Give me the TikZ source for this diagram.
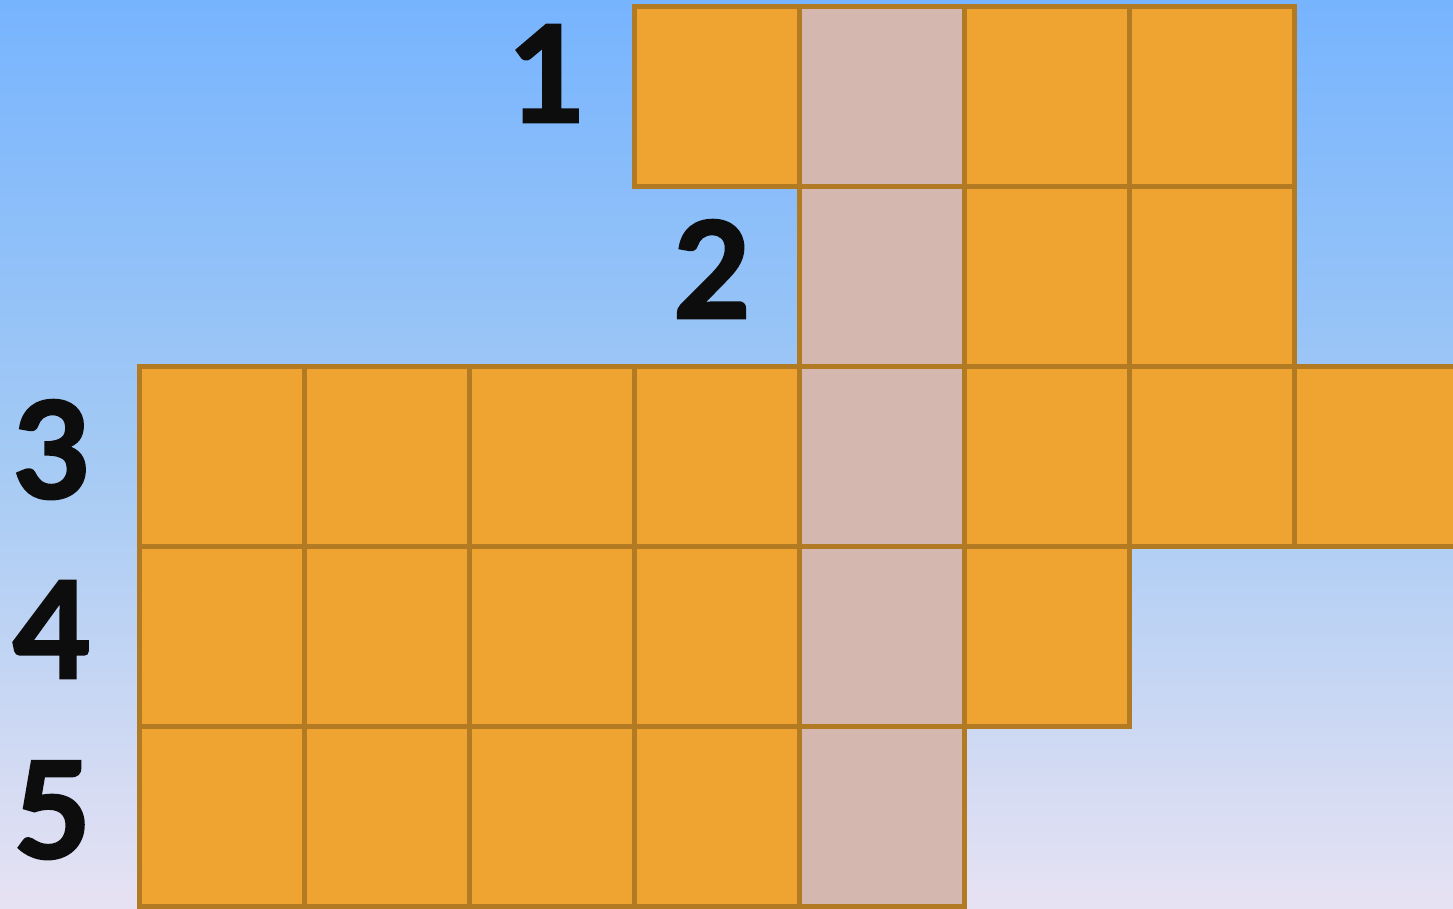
\documentclass[tikz,border=0pt]{standalone}
\usepackage{fontspec}
\setmainfont{Lato}[BoldFeatures={FakeBold=2}]
\definecolor{bgtop}{HTML}{77B4FE}
\definecolor{bgmid}{HTML}{A4CAF4}
\definecolor{bgbot}{HTML}{E7E2F3}
\definecolor{cellor}{HTML}{EFA330}
\definecolor{cellpk}{HTML}{D4B8B0}
\definecolor{celledge}{HTML}{B27A22}
\begin{document}
\begin{tikzpicture}[x=1pt,y=-1pt,
  cellbox/.style={draw=celledge, line width=4.5pt, fill=cellor, rectangle,
    minimum width=165pt, minimum height=180pt, inner sep=0pt, outer sep=0pt, anchor=north west},
  pinkbox/.style={cellbox, fill=cellpk},
  numlabel/.style={font=\bfseries\fontsize{134}{134}\selectfont, text=black!95, anchor=base, inner sep=0pt}]
\useasboundingbox (0,0) rectangle (1453,908);
\fill[top color=bgtop, bottom color=bgbot, middle color=bgmid] (0,0) rectangle (1453,908);
\begin{scope}
\clip (0,0) rectangle (1453,908);
% row 1
\node[cellbox] (r1c4) at (634.5,6.5) {};
\node[pinkbox] (r1c5) at (799.5,6.5) {};
\node[cellbox] (r1c6) at (964.5,6.5) {};
\node[cellbox] (r1c7) at (1129.5,6.5) {};
% row 2
\node[pinkbox] (r2c5) at (799.5,186.5) {};
\node[cellbox] (r2c6) at (964.5,186.5) {};
\node[cellbox] (r2c7) at (1129.5,186.5) {};
% row 3
\foreach \c/\x in {1/139.5,2/304.5,3/469.5,4/634.5,6/964.5,7/1129.5,8/1294.5}
  \node[cellbox] (r3c\c) at (\x,366.5) {};
\node[pinkbox] (r3c5) at (799.5,366.5) {};
% row 4
\foreach \c/\x in {1/139.5,2/304.5,3/469.5,4/634.5,6/964.5}
  \node[cellbox] (r4c\c) at (\x,546.5) {};
\node[pinkbox] (r4c5) at (799.5,546.5) {};
% row 5
\foreach \c/\x in {1/139.5,2/304.5,3/469.5,4/634.5}
  \node[cellbox] (r5c\c) at (\x,726.5) {};
\node[pinkbox] (r5c5) at (799.5,726.5) {};
\end{scope}
\node[numlabel] (l1) at (547,122) {1};
\node[numlabel] (l2) at (712,318) {2};
\node[numlabel] (l3) at (52,498) {3};
\node[numlabel] (l4) at (52,678) {4};
\node[numlabel] (l5) at (52,858) {5};
\end{tikzpicture}
\end{document}
